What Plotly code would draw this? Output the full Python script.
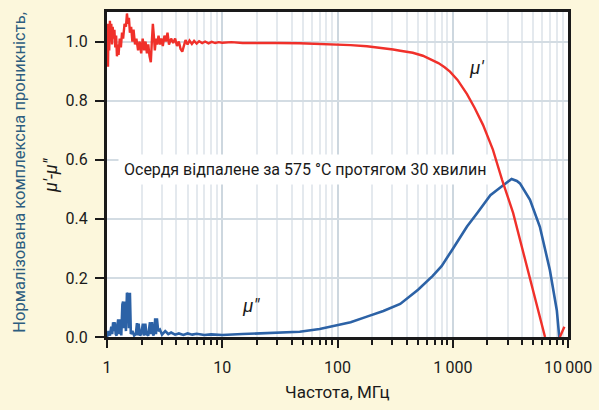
import plotly.graph_objects as go

# Frequency axis (MHz) and normalised permeability values
freq_re = [1.000, 1.010, 1.020, 1.030, 1.045, 1.060, 1.075, 1.090, 1.105, 1.120,
           1.140, 1.160, 1.180, 1.200, 1.220, 1.240, 1.260, 1.290, 1.320, 1.350,
           1.380, 1.420, 1.460, 1.490, 1.520, 1.550, 1.580, 1.620, 1.660, 1.700,
           1.750, 1.800, 1.860, 1.920, 1.980, 2.040, 2.100, 2.160, 2.220, 2.280,
           2.340, 2.400, 2.450, 2.500, 2.550, 2.600, 2.660, 2.720, 2.800, 2.880,
           2.960, 3.050, 3.150, 3.250, 3.350, 3.450, 3.600, 3.750, 3.900, 4.050,
           4.200, 4.350, 4.500, 4.650, 4.800, 5.000, 5.200, 5.450, 5.700, 6.000,
           6.300, 6.700, 7.100, 7.600, 8.100, 8.700, 9.300, 10, 12, 15,
           20, 30, 47, 70, 92, 130, 180, 250, 304, 350,
           450, 550, 650, 750, 850, 946, 1100, 1330, 1550, 1720,
           1830, 2230, 2680, 3340, 4000, 4680, 5400, 6320, 8500, 9300]
mu_re = [0.95, 1.06, 0.915, 1.03, 0.97, 1.07, 1.00, 1.06, 0.99, 1.05,
         1.01, 1.04, 0.98, 1.02, 0.95, 0.99, 0.955, 1.01, 0.98, 1.03,
         1.01, 1.06, 1.05, 1.095, 1.06, 1.08, 1.03, 1.05, 1.00, 1.04,
         0.99, 1.01, 0.97, 1.00, 0.96, 1.01, 0.97, 1.00, 0.96, 0.99,
         0.95, 0.93, 1.00, 1.06, 1.02, 0.97, 1.01, 0.99, 1.02, 0.99,
         1.01, 0.985, 1.02, 1.00, 1.03, 0.99, 1.01, 0.995, 1.01, 0.985,
         1.00, 0.975, 0.966, 0.99, 1.005, 0.99, 1.003, 0.992, 1.002, 0.993,
         1.001, 0.995, 1.0, 0.994, 0.999, 0.995, 0.998, 0.996, 0.998, 0.995,
         0.996, 0.995, 0.994, 0.992, 0.99, 0.988, 0.984, 0.978, 0.973, 0.969,
         0.962, 0.952, 0.94, 0.927, 0.913, 0.898, 0.87, 0.822, 0.775, 0.742,
         0.718, 0.634, 0.532, 0.42, 0.30, 0.193, 0.10, 0.0, 0.0, 0.035]
# the real part dips below zero between ~6.3 and ~8.5 GHz
gap_re = [6320]

freq_im = [1.00, 1.03, 1.06, 1.09, 1.11, 1.13, 1.15, 1.17, 1.19, 1.21,
           1.25, 1.28, 1.30, 1.33, 1.36, 1.38, 1.40, 1.43, 1.46, 1.49,
           1.52, 1.55, 1.58, 1.61, 1.66, 1.72, 1.78, 1.82, 1.85, 1.88,
           1.93, 1.98, 2.05, 2.10, 2.15, 2.20, 2.28, 2.36, 2.40, 2.46,
           2.52, 2.58, 2.62, 2.66, 2.71, 2.78, 2.88, 3.0, 3.2, 3.4,
           3.6, 3.9, 4.2, 4.6, 5.0, 5.5, 6.0, 7.0, 8.0, 10,
           15, 20, 30, 47, 70, 92, 130, 180, 250, 350,
           500, 670, 800, 1000, 1330, 1620, 2000, 2120, 2570, 3000,
           3240, 3600, 3830, 4680, 5700, 6960, 8000, 8400]
mu_im = [0.0, 0.02, 0.005, 0.035, 0.01, 0.05, 0.02, 0.05, 0.01, 0.005,
         0.06, 0.01, 0.06, 0.005, 0.11, 0.12, 0.03, 0.12, 0.02, 0.15,
         0.14, 0.03, 0.15, 0.01, 0.02, 0.005, 0.01, 0.047, 0.005, 0.045,
         0.005, 0.01, 0.045, 0.005, 0.045, 0.01, 0.005, 0.05, 0.01, 0.05,
         0.005, 0.015, 0.063, 0.01, 0.063, 0.02, 0.025, 0.008, 0.02, 0.01,
         0.015, 0.008, 0.012, 0.007, 0.012, 0.008, 0.011, 0.007, 0.009, 0.007,
         0.01, 0.012, 0.014, 0.018, 0.027, 0.037, 0.05, 0.069, 0.088, 0.112,
         0.16, 0.207, 0.24, 0.298, 0.374, 0.418, 0.464, 0.48, 0.505, 0.525,
         0.535, 0.528, 0.52, 0.464, 0.373, 0.227, 0.09, 0.0]

major_ticks = [1, 10, 100, 1000, 10000]
major_labels = ["1", "10", "100", "1\u2009000", "10\u2009000"]
minor_ticks = [m * d for d in (1, 10, 100, 1000) for m in range(2, 10)]

y_ticks = [0.0, 0.2, 0.4, 0.6, 0.8, 1.0]
y_labels = ["0.0", "0.2", "0.4", "0.6", "0.8", "1.0"]

RED = "#f0302a"
BLUE = "#2c62a6"
BG = "#fcf7dc"
FONT = "Roboto, Arial"

# insert a break where mu' goes negative
xr, yr = [], []
for f, v in zip(freq_re, mu_re):
    xr.append(f)
    yr.append(v)
    if f in gap_re:
        xr.append(None)
        yr.append(None)

fig = go.Figure()
fig.add_trace(go.Scatter(x=freq_im, y=mu_im, mode="lines",
                         line=dict(color=BLUE, width=2.6), hoverinfo="skip"))
fig.add_trace(go.Scatter(x=xr, y=yr, mode="lines", connectgaps=False,
                         line=dict(color=RED, width=2.4), hoverinfo="skip"))

fig.update_layout(
    width=599, height=410,
    margin=dict(l=107, r=31, t=12, b=73, autoexpand=False),
    paper_bgcolor=BG, plot_bgcolor="white",
    showlegend=False,
    font=dict(family=FONT, size=16, color="#1a1a1a"),
)

fig.update_xaxes(
    type="log", range=[0, 4], automargin=False,
    tickmode="array", tickvals=major_ticks, ticktext=major_labels,
    ticks="outside", ticklen=8, tickwidth=2, tickcolor="#1a1a1a",
    ticklabelstandoff=6,
    showgrid=True, gridcolor="#cdd7df", gridwidth=2,
    minor=dict(tickmode="array", tickvals=minor_ticks, ticks="outside",
               ticklen=5, tickwidth=2, tickcolor="#1a1a1a",
               showgrid=True, gridcolor="#e4e9ee", gridwidth=2),
    showline=True, linecolor="#1a1a1a", linewidth=3, mirror=True,
    tickfont=dict(size=16), zeroline=False,
)
fig.update_yaxes(
    range=[0, 1.1], automargin=False,
    tickmode="array", tickvals=y_ticks, ticktext=y_labels,
    ticks="outside", ticklen=9, tickwidth=2, tickcolor="#1a1a1a",
    ticklabelstandoff=4,
    showgrid=True, gridcolor="#d3dce3", gridwidth=2,
    showline=True, linecolor="#1a1a1a", linewidth=3, mirror=True,
    tickfont=dict(size=16), zeroline=False,
)

# x-axis title
fig.add_annotation(xref="paper", yref="paper", x=0.5, y=-0.169,
                   text="Частота, МГц", showarrow=False,
                   xanchor="center", yanchor="middle", font=dict(size=17))

# y-axis title in two differently styled lines
fig.add_annotation(xref="paper", yref="paper", x=-0.189, y=0.508,
                   text="Нормалізована комплексна проникність,",
                   textangle=-90, showarrow=False, xanchor="center", yanchor="middle",
                   font=dict(size=16.5, color="#2d5d7f"))
fig.add_annotation(xref="paper", yref="paper", x=-0.124, y=0.498,
                   text="<i>μ′-μ″</i>",
                   textangle=-90, showarrow=False, xanchor="center", yanchor="middle",
                   font=dict(size=18, color="#1a1a1a"))

fig.add_annotation(xref="paper", yref="paper", x=0.024, y=0.514,
                   text="Осердя відпалене за 575 °C протягом 30 хвилин",
                   showarrow=False, xanchor="left", yanchor="middle",
                   bgcolor="white", borderpad=5, font=dict(size=16))

fig.add_annotation(x=3.21, y=0.912, text="<i>μ′</i>", showarrow=False,
                   font=dict(size=19))
fig.add_annotation(x=1.25, y=0.108, text="<i>μ″</i>", showarrow=False,
                   font=dict(size=19))

fig.write_html("out.html")
